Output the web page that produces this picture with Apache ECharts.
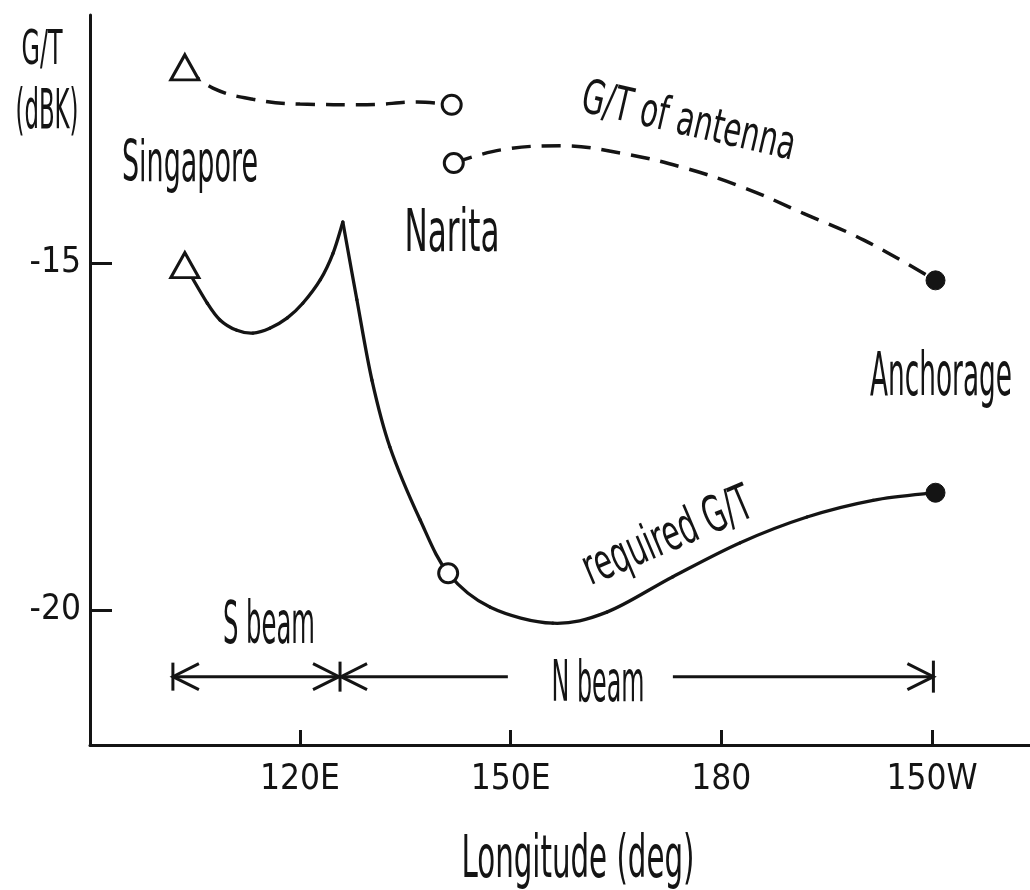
<!DOCTYPE html>
<html>
<head>
<meta charset="utf-8">
<script src="https://cdn.jsdelivr.net/npm/echarts@6/dist/echarts.min.js"></script>
<style>html,body{margin:0;padding:0;background:#fff}#c{width:1030px;height:890px}</style>
</head>
<body>
<div id="c"></div>
<script>
// ---------------- data ----------------
const xTickValues = [120, 150, 180, 210];
const xTickLabels = ['120E', '150E', '180', '150W'];
const yTickValues = [-15, -20];
const yTickLabels = ['-15', '-20'];

// G/T of antenna (dashed), S-beam part: Singapore -> Narita
const antennaSBeam = [[103.6,-12.18],[107.6,-12.48],[113.3,-12.64],[120.0,-12.71],[129.5,-12.72],[136.7,-12.68],[141.6,-12.72]];
// G/T of antenna (dashed), N-beam part: Narita -> Anchorage
const antennaNBeam = [[141.9,-13.56],[148.6,-13.37],[157.2,-13.31],[165.9,-13.42],[174.4,-13.62],[183.1,-13.91],[191.6,-14.28],[200.3,-14.67],[210.5,-15.25]];
// required G/T (solid), S-beam part: Singapore -> beam edge (cusp)
const requiredSBeam = [[103.6,-15.03],[106.8,-15.58],[108.6,-15.82],[111.0,-15.97],[113.3,-16.01],[115.7,-15.94],[118.2,-15.79],[120.4,-15.58],[122.9,-15.24],[124.7,-14.86],[126.1,-14.41]];
// required G/T (solid), N-beam part: cusp -> Anchorage (index 5 = Narita)
const requiredNBeam = [[126.1,-14.41],[128.1,-15.53],[130.25,-16.69],[132.8,-17.65],[137.1,-18.70],[141.1,-19.47],[147.1,-19.96],[156.0,-20.19],[163.7,-20.03],[173.1,-19.52],[182.7,-19.03],[192.2,-18.66],[201.6,-18.42],[210.5,-18.31]];

const singaporePts = [antennaSBeam[0], requiredSBeam[0]];
const naritaPts = [antennaSBeam[antennaSBeam.length - 1], antennaNBeam[0], requiredNBeam[5]];
const anchoragePts = [antennaNBeam[antennaNBeam.length - 1], requiredNBeam[requiredNBeam.length - 1]];

// beam coverage (longitude): S beam [0]-[1], N beam [1]-[2]
const beamBounds = [101.9, 125.7, 210.2];
const beamLevel = -20.96;
const nBeamLabelGap = [149.6, 173.1];

// ---------------- fonts ----------------
const INK = '#141414';
const FAMILY = "'DejaVu Sans Condensed', 'Liberation Sans Narrow', 'Roboto Condensed', Roboto, 'DejaVu Sans', sans-serif";
const mctx = document.createElement('canvas').getContext('2d');
function textWidth(t, size) { mctx.font = size + 'px ' + FAMILY; return mctx.measureText(t).width; }
const axisFontSize = Math.min(50, 80 * 100 / textWidth('120E', 100));

// ---------------- chart ----------------
const chart = echarts.init(document.getElementById('c'), null, { renderer: 'canvas' });
const axisLineStyle = { color: INK, width: 3 };
const lineBase = { type: 'line', symbol: 'none', showSymbol: false, z: 2, silent: true };

// smooth curve (Catmull-Rom through the read points), positioned with the axes via api.coord
function curveSeries(name, pts, width) {
  return {
    type: 'custom', name: name, data: pts, silent: true, z: 2, clip: false,
    encode: { x: 0, y: 1 },
    renderItem: function (params, api) {
      const i = params.dataIndex;
      if (i >= pts.length - 1) return null;
      const P = function (k) { return api.coord(pts[Math.max(0, Math.min(pts.length - 1, k))]); };
      const p0 = P(i - 1), p1 = P(i), p2 = P(i + 1), p3 = P(i + 2);
      const t = 1 / 6;
      return {
        type: 'bezierCurve',
        shape: {
          x1: p1[0], y1: p1[1], x2: p2[0], y2: p2[1],
          cpx1: p1[0] + (p2[0] - p0[0]) * t, cpy1: p1[1] + (p2[1] - p0[1]) * t,
          cpx2: p2[0] - (p3[0] - p1[0]) * t, cpy2: p2[1] - (p3[1] - p1[1]) * t
        },
        style: { stroke: INK, lineWidth: width, fill: 'none', lineCap: 'round' }
      };
    }
  };
}

chart.setOption({
  animation: false,
  backgroundColor: '#ffffff',
  grid: { left: 90, right: 0, top: 15, bottom: 145, containLabel: false, outerBoundsMode: 'none' },
  xAxis: {
    type: 'value', min: 90.094, max: 223.956,
    axisLine: { show: true, onZero: false, lineStyle: axisLineStyle },
    axisTick: { show: true, inside: true, length: 15, customValues: xTickValues, lineStyle: { color: INK, width: 3 } },
    axisLabel: {
      show: true, customValues: xTickValues, margin: 17, color: INK,
      fontFamily: FAMILY, fontSize: axisFontSize,
      formatter: function (v) { const i = xTickValues.indexOf(v); return i >= 0 ? xTickLabels[i] : ''; }
    },
    splitLine: { show: false }
  },
  yAxis: {
    type: 'value', min: -21.945, max: -11.4265,
    axisLine: { show: true, onZero: false, lineStyle: axisLineStyle },
    axisTick: { show: true, inside: true, length: 22, customValues: yTickValues, lineStyle: { color: INK, width: 3 } },
    axisLabel: {
      show: true, customValues: yTickValues, margin: 9, color: INK,
      fontFamily: FAMILY, fontSize: axisFontSize,
      formatter: function (v) { const i = yTickValues.indexOf(v); return i >= 0 ? yTickLabels[i] : ''; }
    },
    splitLine: { show: false }
  },
  series: [
    Object.assign({}, lineBase, { name: 'G/T of antenna (S beam)', smooth: 0.4, data: antennaSBeam, lineStyle: { color: INK, width: 3.5, type: [19, 11] } }),
    Object.assign({}, lineBase, { name: 'G/T of antenna (N beam)', smooth: 0.4, data: antennaNBeam, lineStyle: { color: INK, width: 3.5, type: [19, 11] } }),
    curveSeries('required G/T (S beam)', requiredSBeam, 3.3),
    curveSeries('required G/T (N beam)', requiredNBeam, 3.3),
    { type: 'scatter', name: 'Singapore', data: singaporePts, symbol: 'triangle', symbolSize: [28, 25], z: 5, silent: true,
      itemStyle: { color: '#ffffff', borderColor: INK, borderWidth: 3, opacity: 1 } },
    { type: 'scatter', name: 'Narita', data: naritaPts, symbol: 'circle', symbolSize: 19, z: 5, silent: true,
      itemStyle: { color: '#ffffff', borderColor: INK, borderWidth: 3, opacity: 1 } },
    { type: 'scatter', name: 'Anchorage', data: anchoragePts, symbol: 'circle', symbolSize: 19, z: 5, silent: true,
      itemStyle: { color: INK, borderColor: INK, borderWidth: 1, opacity: 1 } }
  ]
});

// ---------------- annotations ----------------
function label(t, cx, cy, W, H, rotDeg) {
  const S = H / 0.72;
  const w = textWidth(t, S);
  return {
    type: 'text', x: cx, y: cy, rotation: (rotDeg || 0) * Math.PI / 180,
    scaleX: W / w, scaleY: 1, silent: true, z: 10,
    style: { text: t, x: 0, y: 0.07 * S, font: S + 'px ' + FAMILY, fill: INK,
             align: 'center', verticalAlign: 'middle', textAlign: 'center', textVerticalAlign: 'middle' }
  };
}

function beamGraphics() {
  const px = function (v) { return chart.convertToPixel({ gridIndex: 0 }, [v, beamLevel]); };
  const pts = beamBounds.map(px);
  const y = pts[0][1];
  const l = pts[0][0], m = pts[1][0], r = pts[2][0];
  const g1 = px(nBeamLabelGap[0])[0], g2 = px(nBeamLabelGap[1])[0];
  const st = { stroke: INK, lineWidth: 3, fill: null, lineCap: 'butt', lineJoin: 'miter' };
  const seg = function (x1, x2) { return { type: 'line', silent: true, shape: { x1: x1, y1: y, x2: x2, y2: y }, style: st }; };
  const bar = function (x, h) { return { type: 'line', silent: true, shape: { x1: x, y1: y - h, x2: x, y2: y + h }, style: st }; };
  const chev = function (x, dir) { return { type: 'polyline', silent: true, shape: { points: [[x + dir * 26, y - 13], [x, y], [x + dir * 26, y + 13]] }, style: st }; };
  return [
    seg(l, m), bar(l, 14), chev(l, 1), chev(m - 1, -1), bar(m, 15), chev(m + 1, 1),
    seg(m, g1), seg(g2, r), chev(r, -1), bar(r, 16)
  ];
}

const texts = [
  label('G/T', 42, 48.5, 41, 34, 0),
  label('(dBK)', 47, 110, 63, 40, 0),
  label('Singapore', 190, 162.5, 136, 41, 0),
  label('Narita', 452, 231.5, 95, 42, 0),
  label('Anchorage', 941, 375, 142, 43, 0),
  label('G/T of antenna', 689, 120, 218, 34, -13),
  label('required G/T', 667, 535, 180, 36, 23),
  label('S beam', 269, 624, 92, 42, 0),
  label('N beam', 598, 682.5, 93, 41, 0),
  label('Longitude (deg)', 578, 858, 233, 42, 0)
];

chart.setOption({ graphic: { elements: texts.concat(beamGraphics()) } });
</script>
</body>
</html>
